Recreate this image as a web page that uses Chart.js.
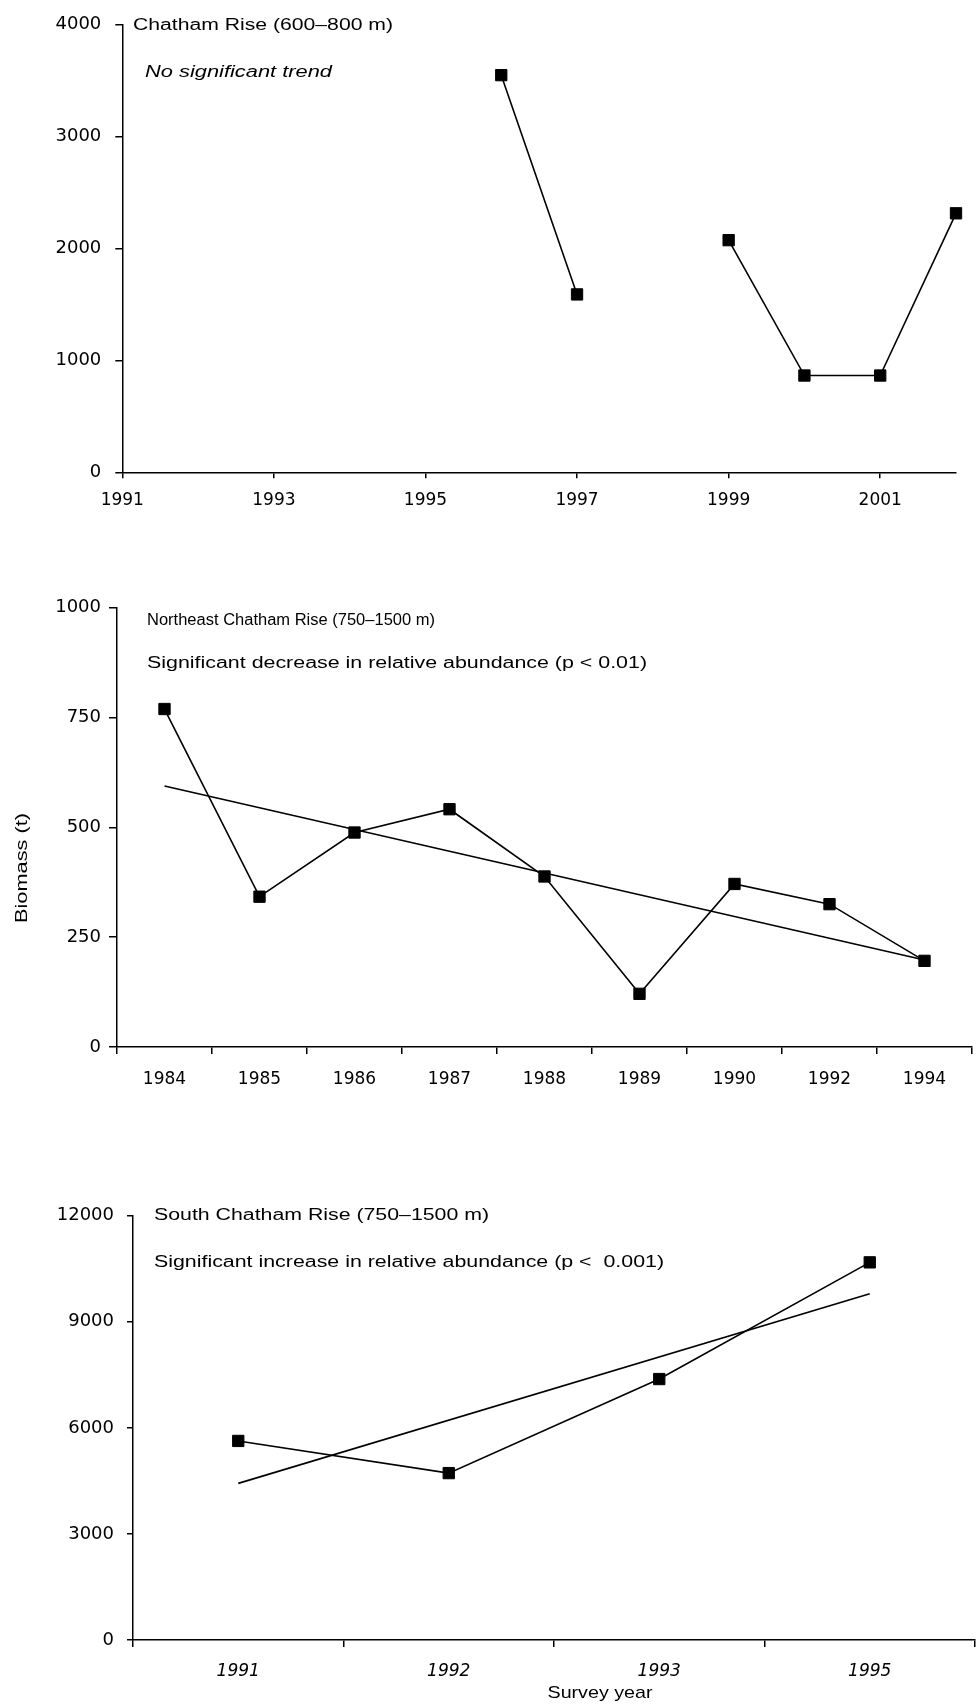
<!DOCTYPE html>
<html>
<head>
<meta charset="utf-8">
<title>Biomass by survey year</title>
<script src="https://cdn.jsdelivr.net/npm/chart.js@4"></script>
<style>
  html, body { margin: 0; padding: 0; background: #fff; overflow: hidden; }
  .panel { position: absolute; left: 0; }
  canvas { display: block; }
</style>
</head>
<body>
<div class="panel" style="top:0"><canvas id="c1" width="980" height="540"></canvas></div>
<div class="panel" style="top:560px"><canvas id="c2" width="981" height="545"></canvas></div>
<div class="panel" style="top:1160px"><canvas id="c3" width="984" height="545"></canvas></div>
<script>
// Chatham Rise (600-800 m)
const years1 = [1996, 1997, 1998, 1999, 2000, 2001, 2002];
const biomass1 = [3550, 1590, null, 2075, 865, 865, 2315];
const xTicks1 = [1991, 1993, 1995, 1997, 1999, 2001];

// Northeast Chatham Rise (750-1500 m)
const labels2 = ['1984', '1985', '1986', '1987', '1988', '1989', '1990', '1992', '1994'];
const biomass2 = [769, 342, 488, 541, 388, 121, 371, 325, 196];
const trend2 = [594, null, null, null, null, null, null, null, 198];

// South Chatham Rise (750-1500 m)
const labels3 = ['1991', '1992', '1993', '1995'];
const biomass3 = [5630, 4720, 7380, 10680];
const trend3 = [4430, null, null, 9790];

const tickFont = { family: '"DejaVu Sans"', size: 17 };
const yTickFont = { family: '"DejaVu Sans"', size: 18 };
const tickFontItalic = { family: '"DejaVu Sans"', size: 17, style: 'italic' };

// text fitted to a width (the scanned lettering is wide)
function drawNote(ctx, n) {
    ctx.save();
    ctx.font = (n.italic ? 'italic ' : '') + (n.size || 16) + 'px "Liberation Sans"';
    ctx.fillStyle = '#000';
    ctx.textBaseline = 'middle';
    ctx.textAlign = n.align || 'left';
    const w = ctx.measureText(n.text).width;
    ctx.translate(n.x, n.y);
    if (n.rotate) ctx.rotate(-Math.PI / 2);
    ctx.scale(n.w / w, 1);
    ctx.fillText(n.text, 0, 0);
    ctx.restore();
}

function notesPlugin(notes) {
    return {
        id: 'notes',
        afterDraw(chart) {
            notes.forEach(n => drawNote(chart.ctx, n));
        }
    };
}

function axisLook(tickLen) {
    return {
        grid: { display: true, drawOnChartArea: false, color: '#000', tickColor: '#000', lineWidth: 1.5, tickLength: tickLen },
        border: { display: true, color: '#000', width: 1.5 }
    };
}

function lineSet(data, markers, span) {
    return {
        data: data,
        borderColor: '#000',
        borderWidth: 1.6,
        pointStyle: 'rect',
        pointRadius: markers ? 8 : 0,
        pointBackgroundColor: '#000',
        pointBorderColor: '#000',
        pointBorderWidth: 1,
        tension: 0,
        spanGaps: span,
        clip: false
    };
}

const baseOptions = {
    responsive: false,
    animation: false,
    events: [],
    plugins: { legend: { display: false }, tooltip: { enabled: false } }
};

// panel 1
new Chart(document.getElementById('c1'), {
    type: 'line',
    data: {
        datasets: [lineSet(years1.map((yr, i) => ({ x: yr, y: biomass1[i] })), true, false)]
    },
    options: {
        ...baseOptions,
        layout: { padding: { top: 23.5, right: 24, left: 0, bottom: 0 } },
        scales: {
            x: {
                type: 'linear', min: 1991, max: 2002, offset: false,
                ...axisLook(6),
                afterBuildTicks: axis => { axis.ticks = xTicks1.map(v => ({ value: v })); },
                afterFit: s => { s.height = 540 - 472.3; },
                ticks: { font: tickFont, color: '#000', padding: 12.5, maxRotation: 0, callback: v => String(v) }
            },
            y: {
                min: 0, max: 4000,
                ...axisLook(7),
                afterFit: s => { s.width = 122.3; },
                ticks: { stepSize: 1000, font: yTickFont, color: '#000', padding: 14, callback: v => String(v) }
            }
        }
    },
    plugins: [notesPlugin([
        { text: 'Chatham Rise (600\u2013800 m)', x: 133, y: 26, w: 260 },
        { text: 'No significant trend', x: 145, y: 73, w: 187, italic: true }
    ])]
});

// panel 2
new Chart(document.getElementById('c2'), {
    type: 'line',
    data: {
        labels: labels2,
        datasets: [lineSet(biomass2, true, false), lineSet(trend2, false, true)]
    },
    options: {
        ...baseOptions,
        layout: { padding: { top: 47.5, right: 0, left: 0, bottom: 0 } },
        scales: {
            x: {
                type: 'category', offset: true,
                ...axisLook(7),
                grid: { ...axisLook(7).grid, offset: true },
                afterFit: s => { s.height = 58; },
                ticks: { font: tickFont, color: '#000', padding: 15.8, maxRotation: 0 }
            },
            y: {
                min: 0, max: 1000,
                ...axisLook(8),
                afterFit: s => { s.width = 117; },
                ticks: { stepSize: 250, font: yTickFont, color: '#000', padding: 8, callback: v => String(v) }
            }
        }
    },
    plugins: [notesPlugin([
        { text: 'Northeast Chatham Rise (750\u20131500 m)', x: 147, y: 61, w: 288 },
        { text: 'Significant decrease in relative abundance (p < 0.01)', x: 147, y: 104, w: 500 },
        { text: 'Biomass (t)', x: 22, y: 308, w: 110, align: 'center', rotate: true, size: 17 }
    ])]
});

// panel 3
new Chart(document.getElementById('c3'), {
    type: 'line',
    data: {
        labels: labels3,
        datasets: [lineSet(biomass3, true, false), lineSet(trend3, false, true)]
    },
    options: {
        ...baseOptions,
        layout: { padding: { top: 55.7, right: 0, left: 0, bottom: 0 } },
        scales: {
            x: {
                type: 'category', offset: true,
                ...axisLook(7),
                grid: { ...axisLook(7).grid, offset: true },
                afterFit: s => { s.height = 65; },
                ticks: { font: tickFontItalic, color: '#000', padding: 14.8, maxRotation: 0 }
            },
            y: {
                min: 0, max: 12000,
                ...axisLook(6),
                afterFit: s => { s.width = 133; },
                ticks: { stepSize: 3000, font: yTickFont, color: '#000', padding: 13, callback: v => String(v) }
            }
        }
    },
    plugins: [notesPlugin([
        { text: 'South Chatham Rise (750\u20131500 m)', x: 154, y: 56, w: 335 },
        { text: 'Significant increase in relative abundance (p <  0.001)', x: 154, y: 103, w: 510 },
        { text: 'Survey year', x: 600, y: 533, w: 105, align: 'center', size: 17 }
    ])]
});
</script>
</body>
</html>
